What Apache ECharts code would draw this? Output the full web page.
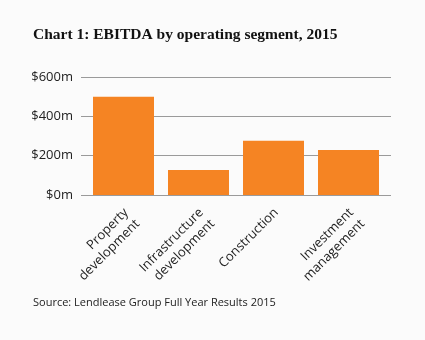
<!DOCTYPE html>
<html>
<head>
<meta charset="utf-8">
<script src="https://cdn.jsdelivr.net/npm/echarts@6/dist/echarts.min.js"></script>
<style>
  html, body { margin: 0; padding: 0; background: #fbfbfb; }
  #chart { width: 425px; height: 340px; }
</style>
</head>
<body>
<div id="chart"></div>
<script>
// Segment EBITDA, 2015 ($m)
const segments = ['Property\ndevelopment', 'Infrastructure\ndevelopment', 'Construction', 'Investment\nmanagement'];
const ebitda = [500, 127, 276, 229];
const yTicks = [0, 200, 400, 600];

const chart = echarts.init(document.getElementById('chart'), null, { renderer: 'canvas' });

const labelFont = '"Open Sans", "Noto Sans", sans-serif';

chart.setOption({
  backgroundColor: '#fbfbfb',
  animation: false,
  title: [{
    text: 'Chart 1: EBITDA by operating segment, 2015',
    left: 33,
    top: 27,
    padding: 0,
    textStyle: { fontFamily: '"Liberation Serif", serif', fontWeight: 'bold', fontSize: 15.5, color: '#111' }
  }, {
    text: 'Source: Lendlease Group Full Year Results 2015',
    left: 33,
    top: 297,
    padding: 0,
    textStyle: { fontFamily: labelFont, fontWeight: 'normal', fontSize: 11, color: '#222' }
  }],
  grid: [
    // gridline frame (slightly wider than the bar area)
    { left: 81, right: 34, top: 77, bottom: 145 },
    // bar area
    { left: 86, right: 39, top: 77, bottom: 145 }
  ],
  xAxis: [{
    gridIndex: 0,
    type: 'value',
    min: 0, max: 1,
    show: false
  }, {
    gridIndex: 1,
    type: 'category',
    data: segments,
    axisLine: { show: false },
    axisTick: { show: false },
    axisLabel: {
      rotate: 45,
      margin: 7,
      interval: 0,
      align: 'right',
      verticalAlign: 'top',
      padding: [0, 4, 0, 0],
      fontFamily: labelFont,
      fontSize: 13,
      color: '#222',
      lineHeight: 16
    }
  }],
  yAxis: [{
    gridIndex: 0,
    type: 'value',
    min: yTicks[0],
    max: yTicks[yTicks.length - 1],
    interval: yTicks[1] - yTicks[0],
    axisLine: { show: false },
    axisTick: { show: false },
    splitLine: { lineStyle: { color: '#9a9a9a', width: 1 } },
    axisLabel: {
      margin: 8,
      fontFamily: labelFont,
      fontSize: 13,
      color: '#222',
      formatter: function (v) { return '$' + v + 'm'; }
    }
  }, {
    gridIndex: 1,
    type: 'value',
    min: yTicks[0],
    max: yTicks[yTicks.length - 1],
    interval: yTicks[1] - yTicks[0],
    show: false
  }],
  series: [{
    type: 'bar',
    xAxisIndex: 1,
    yAxisIndex: 1,
    data: ebitda,
    barWidth: 61,
    itemStyle: { color: '#f58423' }
  }]
});
</script>
</body>
</html>
